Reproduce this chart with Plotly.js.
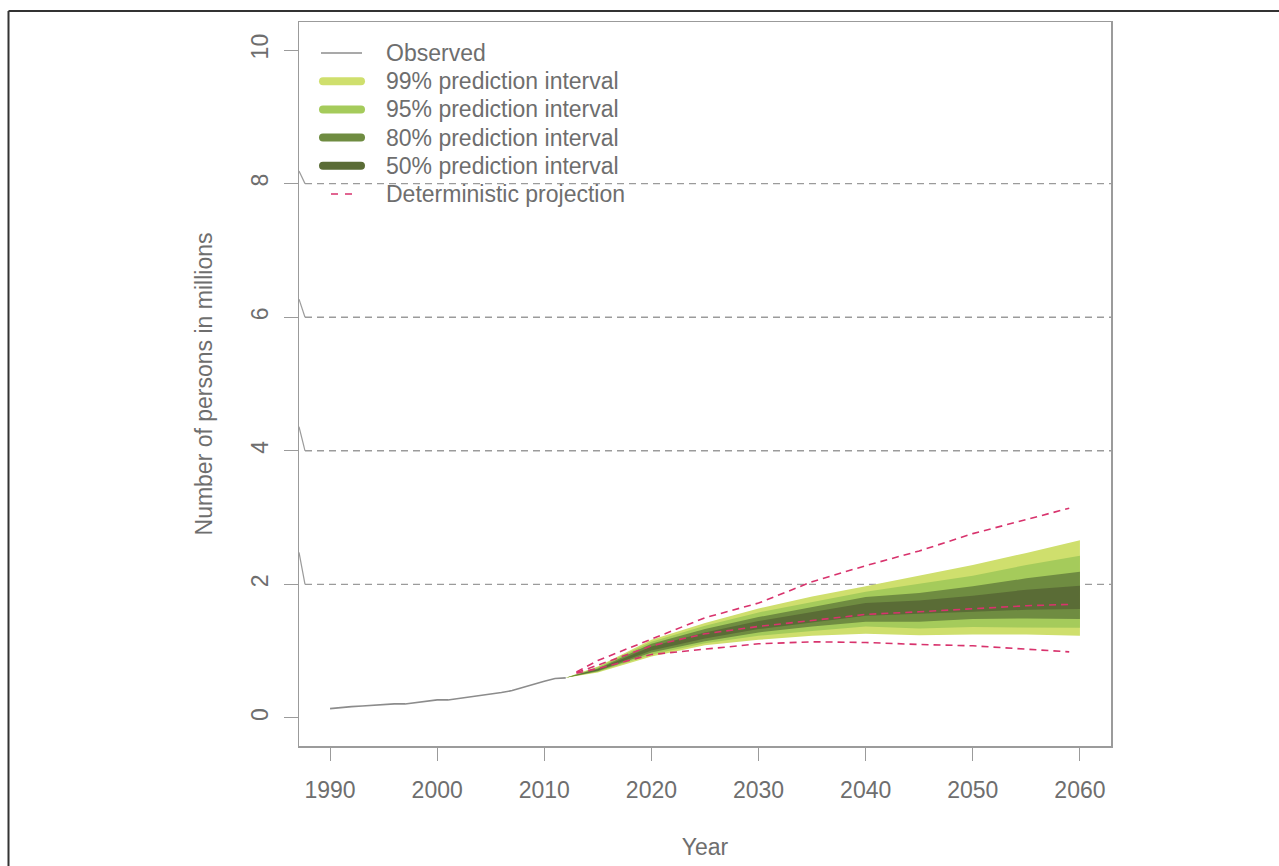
<!DOCTYPE html>
<html>
<head>
<meta charset="utf-8">
<script src="https://cdn.plot.ly/plotly-3.0.1.min.js"></script>
<style>
  html, body { margin: 0; padding: 0; background: #ffffff; }
  #chart { width: 1279px; height: 866px; }
</style>
</head>
<body>
<div id="chart"></div>
<script>
// ---- Observed series ----
var obsYears = [1990,1991,1992,1993,1994,1995,1996,1997,1998,1999,2000,2001,2002,2003,2004,2005,2006,2007,2008,2009,2010,2011,2012];
var obsValues = [0.14,0.16,0.17,0.18,0.19,0.21,0.21,0.21,0.23,0.25,0.27,0.27,0.29,0.32,0.34,0.36,0.38,0.41,0.46,0.51,0.55,0.59,0.60];

// ---- Prediction intervals (fan) ----
var fanYears = [2012,2015,2020,2025,2030,2035,2040,2045,2050,2055,2060];
var pi99Upper = [0.60,0.77,1.17,1.42,1.64,1.82,1.97,2.13,2.29,2.47,2.66];
var pi95Upper = [0.60,0.76,1.14,1.38,1.58,1.74,1.89,2.01,2.13,2.29,2.43];
var pi80Upper = [0.60,0.74,1.11,1.33,1.51,1.66,1.81,1.87,1.97,2.09,2.19];
var pi50Upper = [0.60,0.73,1.07,1.28,1.45,1.58,1.72,1.76,1.83,1.92,1.98];
var pi50Lower = [0.60,0.71,1.01,1.19,1.33,1.43,1.53,1.56,1.59,1.62,1.63];
var pi80Lower = [0.60,0.70,0.98,1.15,1.28,1.37,1.44,1.44,1.48,1.49,1.48];
var pi95Lower = [0.60,0.69,0.95,1.12,1.23,1.30,1.37,1.34,1.36,1.36,1.35];
var pi99Lower = [0.60,0.68,0.92,1.09,1.17,1.23,1.26,1.24,1.25,1.25,1.23];

// ---- Deterministic projections ----
var detYears = [2013,2015,2020,2025,2030,2035,2040,2045,2050,2055,2059];
var detHigh   = [0.69,0.86,1.18,1.50,1.72,2.04,2.28,2.50,2.76,2.97,3.14];
var detMedium = [0.68,0.79,1.08,1.26,1.37,1.46,1.55,1.59,1.64,1.68,1.70];
var detLow    = [0.67,0.74,0.95,1.03,1.11,1.14,1.13,1.10,1.08,1.03,0.99];

// ---- Axis ticks & labels ----
var xTicks = [1990,2000,2010,2020,2030,2040,2050,2060];
var yTicks = [0,2,4,6,8,10];
var gridLevels = [2,4,6,8];
var legendLabels = ["Observed","99% prediction interval","95% prediction interval","80% prediction interval","50% prediction interval","Deterministic projection"];

var colors = {
  c99: "#cfdf6d",
  c95: "#a5cb5b",
  c80: "#6f8c41",
  c50: "#5a6c36",
  obs: "#8c8c8c",
  det: "#d8336d",
  text: "#6e6e6e",
  axis: "#9b9b9b"
};

// plot-area geometry (pixels) used to place legend/frame decorations in paper units
var PL = 299, PW = 812, PB = 746, PH = 724;
function px(x) { return (x - PL) / PW; }
function py(y) { return (PB - y) / PH; }

function band(upper, lower, color) {
  var xs = fanYears.concat(fanYears.slice().reverse());
  var ys = upper.concat(lower.slice().reverse());
  return {x: xs, y: ys, type: "scatter", mode: "lines", fill: "toself",
          fillcolor: color, line: {width: 0, color: color}, showlegend: false, hoverinfo: "skip"};
}

var traces = [];
traces.push(band(pi99Upper, pi99Lower, colors.c99));
traces.push(band(pi95Upper, pi95Lower, colors.c95));
traces.push(band(pi80Upper, pi80Lower, colors.c80));
traces.push(band(pi50Upper, pi50Lower, colors.c50));

traces.push({x: obsYears, y: obsValues, type: "scatter", mode: "lines",
             line: {color: colors.obs, width: 1.6}, name: legendLabels[0], showlegend: false});

var detDash = "7px,5px";
[detHigh, detMedium, detLow].forEach(function (d) {
  traces.push({x: detYears, y: d, type: "scatter", mode: "lines",
               line: {color: colors.det, width: 1.6, dash: detDash}, name: legendLabels[5], showlegend: false});
});

var shapes = [];
gridLevels.forEach(function (g) {
  shapes.push({type: "line", xref: "paper", yref: "y", x0: px(305), x1: 1, y0: g, y1: g,
               line: {color: colors.axis, width: 1.4, dash: "7px,5px"}, layer: "below"});
});
// small slanted marks on the left axis
var slantTop = [2.48, 4.36, 6.27, 8.19];
gridLevels.forEach(function (g, i) {
  shapes.push({type: "line", xref: "paper", yref: "y", x0: 0, x1: px(305), y0: slantTop[i], y1: g,
               line: {color: colors.axis, width: 1.2}});
});
// outer frame (top and left)
shapes.push({type: "line", xref: "paper", yref: "paper", x0: px(8.5), x1: px(1285), y0: py(11), y1: py(11),
             line: {color: "#333333", width: 2}});
shapes.push({type: "line", xref: "paper", yref: "paper", x0: px(8.5), x1: px(8.5), y0: py(11), y1: py(870),
             line: {color: "#333333", width: 2}});

// legend (drawn as symbols + text)
var legRowY = [53, 81.2, 109.4, 137.6, 165.8, 194];
var legBandColors = [null, colors.c99, colors.c95, colors.c80, colors.c50, null];
function roundedBar(x0, x1, yc, r) {
  function P(x, y) { return px(x) + "," + py(y); }
  return "M" + P(x0 + r, yc - r) + " L" + P(x1 - r, yc - r) +
         " Q" + P(x1, yc - r) + " " + P(x1, yc) +
         " Q" + P(x1, yc + r) + " " + P(x1 - r, yc + r) +
         " L" + P(x0 + r, yc + r) +
         " Q" + P(x0, yc + r) + " " + P(x0, yc) +
         " Q" + P(x0, yc - r) + " " + P(x0 + r, yc - r) + " Z";
}
var annotations = [];
legendLabels.forEach(function (lab, i) {
  var yc = legRowY[i];
  if (i === 0) {
    shapes.push({type: "line", xref: "paper", yref: "paper", x0: px(321), x1: px(362), y0: py(yc), y1: py(yc),
                 line: {color: colors.obs, width: 1.3}});
  } else if (i === 5) {
    shapes.push({type: "line", xref: "paper", yref: "paper", x0: px(331), x1: px(352), y0: py(yc), y1: py(yc),
                 line: {color: colors.det, width: 1.6, dash: "7px,7px"}});
  } else {
    shapes.push({type: "path", xref: "paper", yref: "paper", path: roundedBar(319, 365, yc, 4),
                 fillcolor: legBandColors[i], line: {width: 0}});
  }
  annotations.push({xref: "paper", yref: "paper", x: px(384), y: py(yc), xanchor: "left", yanchor: "middle",
                    text: lab, showarrow: false, font: {family: "Liberation Sans, Arial, sans-serif", color: colors.text, size: 23}});
});

var font = {family: "Liberation Sans, Arial, sans-serif", color: colors.text, size: 23};

var layout = {
  width: 1279, height: 866,
  margin: {l: 299, r: 168, t: 22, b: 120, pad: 0},
  paper_bgcolor: "#ffffff", plot_bgcolor: "#ffffff",
  font: font,
  showlegend: false,
  xaxis: {
    range: [1987.1, 2062.9], tickvals: xTicks, ticktext: xTicks.map(String),
    showgrid: false, zeroline: false, showline: true, mirror: true, linecolor: colors.axis, linewidth: 1.5,
    ticks: "outside", ticklen: 13, tickcolor: colors.axis, tickwidth: 1,
    tickfont: {family: font.family, color: colors.text, size: 23}, ticklabelstandoff: 10,
    title: {text: "Year", font: {family: font.family, color: colors.text, size: 23}, standoff: 37}
  },
  yaxis: {
    range: [-0.42, 10.42], tickvals: yTicks, ticktext: yTicks.map(String),
    showgrid: false, zeroline: false, showline: true, mirror: true, linecolor: colors.axis, linewidth: 1.5,
    ticks: "outside", ticklen: 14, tickcolor: colors.axis, tickwidth: 1, tickangle: -90,
    tickfont: {family: font.family, color: colors.text, size: 23}, ticklabelstandoff: 6,
    title: {text: "Number of persons in millions", font: {family: font.family, color: colors.text, size: 23}, standoff: 28}
  },
  shapes: shapes,
  annotations: annotations
};

Plotly.newPlot("chart", traces, layout, {staticPlot: true, displayModeBar: false});
</script>
</body>
</html>
